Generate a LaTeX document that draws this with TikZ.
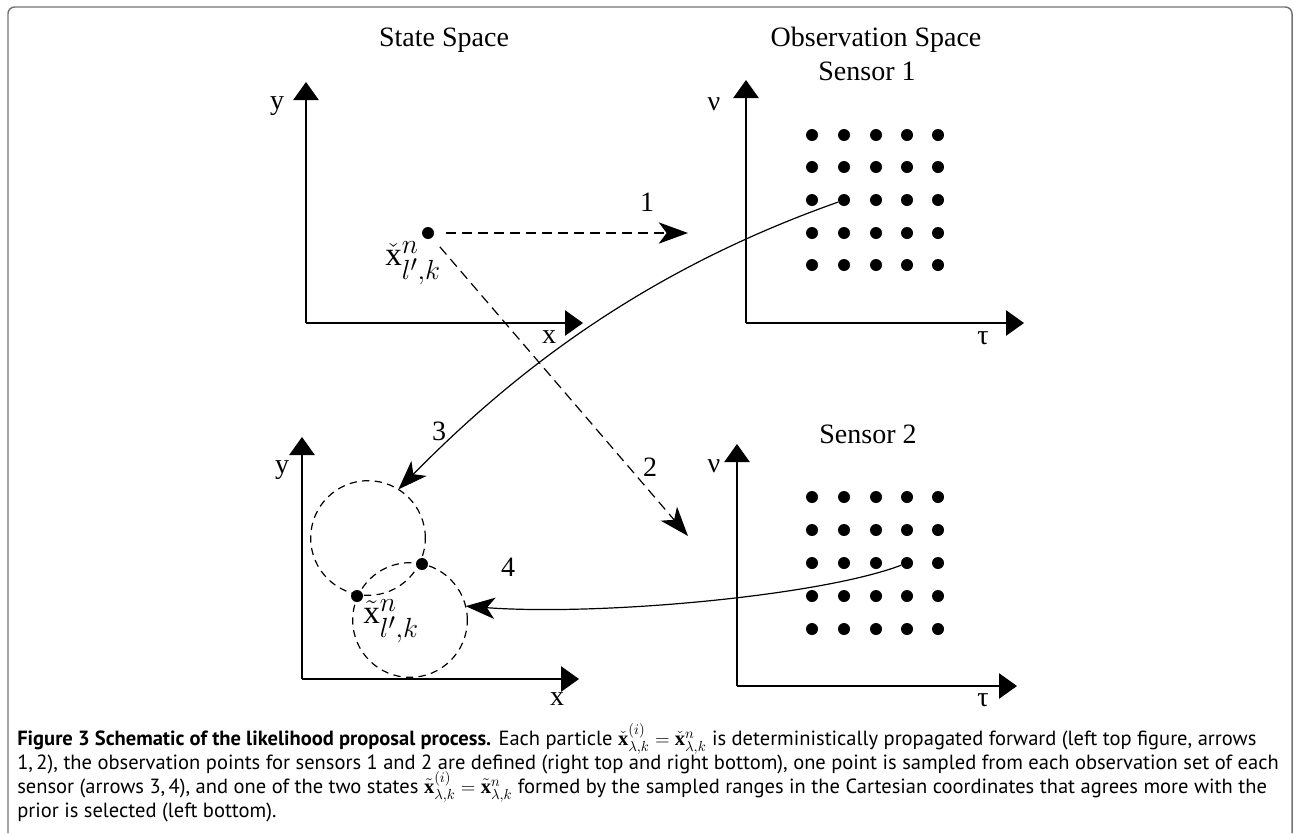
\documentclass[tikz,border=0pt]{standalone}
\usepackage{amsmath}
\usepackage{fontspec}
\setmainfont{Liberation Serif}
\newfontfamily\capfont{PT Sans}
\usetikzlibrary{arrows.meta}
\newlength\capwd
\newcommand\caplineA{{\bfseries Figure 3 Schematic of the likelihood proposal process.} Each particle $\check{\mathbf{x}}^{(i)}_{\lambda,k}=\check{\mathbf{x}}^{n}_{\lambda,k}$ is deterministically propagated forward (left top figure, arrows}
\newcommand\caplineB{1,\,2), the observation points for sensors 1 and 2 are defined (right top and right bottom), one point is sampled from each observation set of each}
\newcommand\caplineC{sensor (arrows 3,\,4), and one of the two states $\tilde{\mathbf{x}}^{(i)}_{\lambda,k}=\tilde{\mathbf{x}}^{n}_{\lambda,k}$ formed by the sampled ranges in the Cartesian coordinates that agrees more with the}
\newcommand\caplineD{prior is selected (left bottom).}
\begin{document}
\settowidth\capwd{\capfont\fontsize{10}{12}\selectfont\caplineA}%
\pgfmathsetmacro\capsz{min(16,max(12,10*936/\capwd))}%
\begin{tikzpicture}[x=0.75pt,y=-0.75pt,
  axis/.style={line width=1.1pt,-{Triangle[length=13.5pt,width=19pt]}},
  pdot/.style={circle,fill=black,inner sep=0pt,minimum size=9pt},
  lbl/.style={font=\fontsize{21}{24}\selectfont,inner sep=0pt},
  ttl/.style={font=\fontsize{21}{24}\selectfont,inner sep=0pt},
  mlbl/.style={font=\fontsize{24.88}{28}\selectfont,inner sep=0pt},
  dasharrow/.style={dash pattern=on 7.5pt off 4.5pt,line width=0.9pt,shorten <=9pt,-{Stealth[length=22pt,width=16pt,inset=6pt]}},
  curvearrow/.style={line width=0.9pt,-{Stealth[length=22pt,width=16pt,inset=6pt]}},
  region/.style={circle,draw,dash pattern=on 5.5pt off 4pt,line width=0.9pt,minimum size=86pt,inner sep=0pt,outer sep=0pt},
  captext/.style={inner sep=0pt,anchor=base west,font=\capfont\fontsize{\capsz}{18}\selectfont}]
\useasboundingbox (0,0) rectangle (1294,833);
\draw[line width=1.1pt,color=black!55,rounded corners=5pt] (8,833) -- (8,7) -- (1292,7) -- (1292,833);

% titles
\node[ttl] (t1) at (444,40) {State Space};
\node[ttl] (t2) at (876,40) {Observation Space};
\node[ttl] (t3) at (867,71) {Sensor 1};
\node[ttl] (t4) at (868,434) {Sensor 2};

% top-left axes
\coordinate (o1) at (306,323); \coordinate (y1) at (306,82); \coordinate (x1) at (583,323);
\draw[axis] (o1) -- (y1); \draw[axis] (o1) -- (x1);
\node[lbl] (ly1) at (277,106) {y};
\node[lbl] (lx1) at (549,337) {x};

% top-right axes
\coordinate (o2) at (746,323); \coordinate (y2) at (746,80); \coordinate (x2) at (1024,323);
\draw[axis] (o2) -- (y2); \draw[axis] (o2) -- (x2);
\node[lbl] (ly2) at (714,104) {ν};
\node[lbl] (lx2) at (983,338) {τ};

% bottom-left axes
\coordinate (o3) at (302,679); \coordinate (y3) at (302,437); \coordinate (x3) at (579,679);
\draw[axis] (o3) -- (y3); \draw[axis] (o3) -- (x3);
\node[lbl] (ly3) at (282,470) {y};
\node[lbl] (lx3) at (557,699) {x};

% bottom-right axes
\coordinate (o4) at (737,686); \coordinate (y4) at (737,444); \coordinate (x4) at (1017,686);
\draw[axis] (o4) -- (y4); \draw[axis] (o4) -- (x4);
\node[lbl] (ly4) at (714,466) {ν};
\node[lbl] (lx4) at (983,700) {τ};

% observation grids
\foreach \c/\xx in {1/812,2/844,3/876,4/907,5/938}{
  \foreach \r/\yy in {1/135,2/167,3/200,4/233,5/265}{
    \node[pdot] (a-\r-\c) at (\xx,\yy) {};
  }
  \foreach \r/\yy in {1/497,2/530,3/563,4/596,5/629}{
    \node[pdot] (b-\r-\c) at (\xx,\yy) {};
  }
}

% state point
\node[pdot] (xs) at (428,233) {};
\node[mlbl] (xsl) at (413,263) {$\check{\mathrm{x}}^{n}_{l',k}$};
\coordinate (e1) at (688,233);
\coordinate (e2) at (688,536);
\draw[dasharrow] (xs) -- (e1);
\draw[dasharrow] (xs) -- (e2);
\node[lbl] (n1) at (647,202) {1};
\node[lbl] (n2) at (650,467) {2};

% regions
\node[region] (cA) at (368,538) {};
\node[region] (cB) at (410,620) {};
\node[pdot] (p1) at (357,596) {};
\node[pdot] (p2) at (422,564) {};
\node[mlbl] (pl) at (391,621) {$\tilde{\mathrm{x}}^{n}_{l',k}$};

% sampling arrows
\draw[curvearrow] (a-3-2) .. controls (640,272) and (510,376) .. (cA.58);
\draw[curvearrow] (b-3-4) .. controls (820,596) and (600,616) .. (cB.14);
\node[lbl] (n3) at (439,431) {3};
\node[lbl] (n4) at (508,567) {4};

% caption
\node[captext] (cap1) at (17,745) {\caplineA};
\node[captext] (cap2) at (17,769) {\caplineB};
\node[captext] (cap3) at (17,793) {\caplineC};
\node[captext] (cap4) at (17,817) {\caplineD};
\end{tikzpicture}
\end{document}
